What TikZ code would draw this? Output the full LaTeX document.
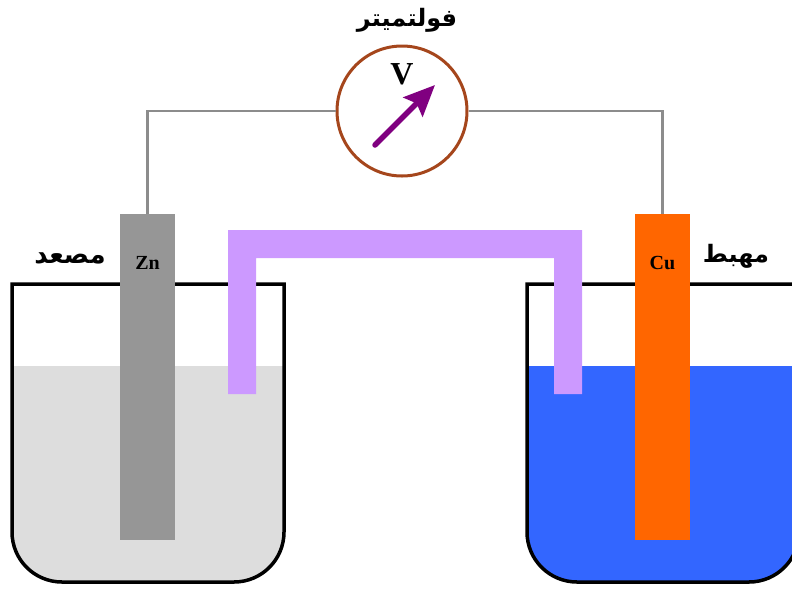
\documentclass[tikz,border=0pt]{standalone}
\usepackage{fontspec}
\usepackage{amsmath}
\usetikzlibrary{positioning, arrows.meta}
\newfontfamily\arabicfont[Script=Arabic]{DejaVu Sans}
\setmainfont{Liberation Serif}
\TeXXeTstate=1
\definecolor{zincgrey}{HTML}{969696}
\definecolor{copperorange}{HTML}{FF6600}
\definecolor{bridgepurple}{HTML}{CC99FF}
\definecolor{zincliquid}{HTML}{DDDDDD}
\definecolor{copperliquid}{HTML}{3366FF}
\definecolor{meterbrown}{HTML}{A5461C}
\definecolor{needlepurple}{HTML}{800080}
\definecolor{wiregrey}{HTML}{8C8C8C}
\tikzset{
x=1pt, y=-1pt, % one unit is one pixel of the picture, y runs down
electrode/.style={minimum width=55pt, minimum height=326pt, inner sep=0pt}, % the two metal plates
meter/.style={circle, draw=meterbrown, line width=3pt, fill=white, minimum size=130pt, inner sep=0pt}, % the voltmeter
wire/.style={wiregrey, line width=2.5pt}, % the leads
plate label/.style={font=\bfseries\fontsize{20}{20}\selectfont, inner sep=0pt},
arabic label/.style={font=\arabicfont\bfseries\fontsize{24}{24}\selectfont, inner sep=0pt},
}

\begin{document}
\begin{tikzpicture}
        \useasboundingbox (0,0) rectangle (792,590);
        \clip (0,0) rectangle (792,590);

        \foreach \x/\liquid in {12/zincliquid, 527/copperliquid}{
            \fill[\liquid] (\x,366) [rounded corners=50pt] -- (\x,582) -- (\x+272,582) [sharp corners] -- (\x+272,366) -- cycle;
            \draw[line width=3.5pt, rounded corners=50pt] (\x,284) [sharp corners] -- (\x,400) [rounded corners=50pt] -- (\x,582) -- (\x+272,582) -- (\x+272,400) [sharp corners] -- (\x+272,284) -- cycle;
        }

        \node[electrode, fill=zincgrey] (zn) at (147.5,377) {};
        \node[electrode, fill=copperorange] (cu) at (662.5,377) {};
        \node[meter] (voltmeter) at (402,111) {};
        \draw[wire] (zn.north) |- (voltmeter.west);
        \draw[wire] (cu.north) |- (voltmeter.east);

        \fill[bridgepurple] (228,394) -- (228,230) -- (582,230) -- (582,394) -- (554,394) -- (554,258) -- (256,258) -- (256,394) -- cycle;

        \node[plate label, below=42pt of zn.north] (znlabel) {Zn};
        \node[plate label, below=42pt of cu.north] (culabel) {Cu};
        \node[font=\bfseries\fontsize{32}{32}\selectfont, inner sep=0pt] (vlabel) at (402,74) {V};

        \coordinate (needletail) at (375,145);
        \coordinate (needletip) at (435,85);
        \draw[needlepurple, line width=5.5pt, line cap=round, -{Stealth[length=31pt, width=27pt, inset=5pt]}] (needletail) -- (needletip);

        \node[arabic label] (metername) at (407,20) {\beginR فولتميتر\endR};
        \node[arabic label, font=\arabicfont\bfseries\fontsize{26}{26}\selectfont] (anode) at (70,258) {\beginR مصعد\endR};
        \node[arabic label] (cathode) at (736,256) {\beginR مهبط\endR};
\end{tikzpicture}
\end{document}
